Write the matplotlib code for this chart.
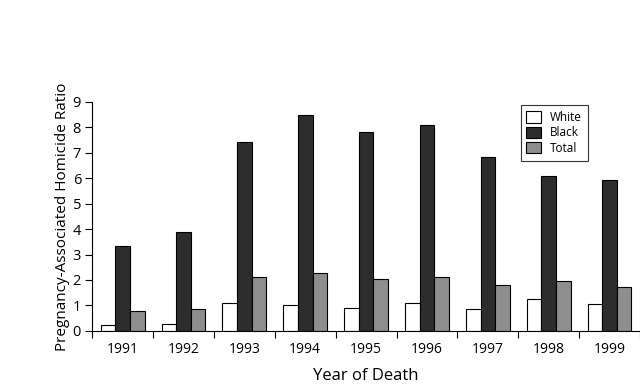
import numpy as np
import matplotlib
matplotlib.use("Agg")
import matplotlib.pyplot as plt

# values
years = ['1991', '1992', '1993', '1994', '1995', '1996', '1997', '1998', '1999']
white = [0.25, 0.29, 1.11, 1.01, 0.90, 1.11, 0.85, 1.24, 1.05]
black = [3.35, 3.87, 7.42, 8.48, 7.80, 8.10, 6.84, 6.08, 5.94]
total = [0.77, 0.86, 2.10, 2.26, 2.02, 2.11, 1.82, 1.95, 1.71]

plt.rcParams['font.family'] = ['Open Sans', 'DejaVu Sans']

fig = plt.figure(figsize=(6.4, 3.87), dpi=100)
ax = fig.add_axes([0.144, 0.145, 0.856, 0.592])

x = np.arange(len(years))
w = 0.24
ax.bar(x - w, white, w, color='white', edgecolor='black', linewidth=0.8, label='White')
ax.bar(x, black, w, color='#2d2d2d', edgecolor='black', linewidth=0.8, label='Black')
ax.bar(x + w, total, w, color='#8e8e8e', edgecolor='black', linewidth=0.8, label='Total')

ax.set_xlim(-0.5, len(years) - 0.5)
ax.set_ylim(0, 9)
ax.set_yticks(range(10))
ax.set_xticks(x)
ax.set_xticklabels(years)
ax.set_xticks(np.arange(-0.5, len(years)), minor=True)
ax.tick_params(axis='x', which='major', length=0, pad=8, labelsize=10)
ax.tick_params(axis='x', which='minor', length=5, width=0.8, direction='out')
ax.tick_params(axis='y', length=5, width=0.8, labelsize=10.5, pad=3)

for s in ['top', 'right']:
    ax.spines[s].set_visible(False)
ax.spines['left'].set_linewidth(0.8)
ax.spines['bottom'].set_linewidth(0.8)

ax.set_xlabel('Year of Death', fontsize=12, labelpad=8)
ax.set_ylabel('Pregnancy-Associated Homicide Ratio', fontsize=11, labelpad=2)

leg = ax.legend(loc='upper left', bbox_to_anchor=(0.782, 0.985), fontsize=8.5,
                frameon=True, fancybox=False, edgecolor='black',
                handlelength=1.2, handleheight=1.1, handletextpad=0.8,
                labelspacing=0.2, borderpad=0.5, borderaxespad=0)
leg.get_frame().set_linewidth(0.8)

fig.savefig('out.png', dpi=100)
